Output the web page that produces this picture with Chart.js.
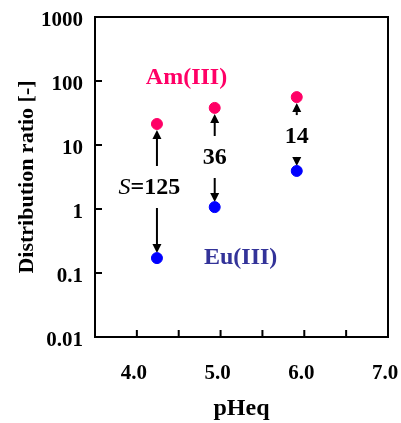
<!DOCTYPE html>
<html>
<head>
<meta charset="utf-8">
<script src="https://cdn.jsdelivr.net/npm/chart.js@4"></script>
<style>
  body{margin:0;background:#fff;}
  canvas{display:block;}
</style>
</head>
<body>
<canvas id="c" width="401" height="423"></canvas>
<script>
// data
const pH = [4.24, 4.93, 5.91];
const amD = [21.3, 38, 56];
const euD = [0.171, 1.07, 3.93];
const sepFactors = ['125', '36', '14'];

const xTicks = [3.5, 4.0, 4.5, 5.0, 5.5, 6.0, 6.5, 7.0];
const yTicks = [0.01, 0.1, 1, 10, 100, 1000];
const yTickLabels = ['0.01', '0.1', '1', '10', '100', '1000'];

// where the text notes sit, in data units
const sepLabelPos = [[4.15, 2.13], [4.93, 6.27], [5.91, 13.3]];
const amLabelPos = [4.593, 111];
const euLabelPos = [5.24, 0.171];

const AM = '#ff0066', EU = '#0000ff', EU_TXT = '#333399';
const FONT = '"Liberation Serif", "Times New Roman", serif';

function arrow(ctx, x, y0, y1){
  // line from y0 to tip at y1
  const dir = y1 > y0 ? 1 : -1;
  const h = 9, w = 4.5;
  ctx.beginPath();
  ctx.moveTo(x, y0);
  ctx.lineTo(x, y1 - dir*h);
  ctx.stroke();
  ctx.beginPath();
  ctx.moveTo(x, y1);
  ctx.lineTo(x - w, y1 - dir*h);
  ctx.lineTo(x + w, y1 - dir*h);
  ctx.closePath();
  ctx.fill();
}

const notes = {
  id: 'notes',
  beforeDatasetsDraw(chart){
    const {ctx, scales:{x, y}} = chart;
    ctx.save();
    ctx.strokeStyle = '#000'; ctx.fillStyle = '#000'; ctx.lineWidth = 2;
    pH.forEach((v, i) => {
      const px = x.getPixelForValue(v);
      const ly = y.getPixelForValue(sepLabelPos[i][1]);
      arrow(ctx, px, ly - 22, y.getPixelForValue(amD[i]) + 6);
      arrow(ctx, px, ly + 20, y.getPixelForValue(euD[i]) - 5);
    });
    ctx.restore();
  },
  afterDraw(chart){
    const {ctx, chartArea:a, scales:{x, y}} = chart;
    ctx.save();
    // frame top/right
    ctx.strokeStyle = '#000'; ctx.lineWidth = 2;
    ctx.beginPath();
    ctx.moveTo(a.left, a.top); ctx.lineTo(a.right, a.top); ctx.lineTo(a.right, a.bottom);
    ctx.stroke();
    // inward ticks
    ctx.beginPath();
    xTicks.slice(1, -1).forEach(v => {
      const px = x.getPixelForValue(v);
      ctx.moveTo(px, a.bottom); ctx.lineTo(px, a.bottom - 7);
    });
    yTicks.slice(1, -1).forEach(v => {
      const py = y.getPixelForValue(v);
      ctx.moveTo(a.left, py); ctx.lineTo(a.left + 7, py);
    });
    ctx.stroke();

    ctx.textBaseline = 'middle';
    ctx.textAlign = 'center';
    // separation factors
    sepFactors.forEach((s, i) => {
      const px = x.getPixelForValue(sepLabelPos[i][0]);
      const py = y.getPixelForValue(sepLabelPos[i][1]);
      ctx.fillStyle = '#000';
      if(i === 0){
        ctx.font = 'italic 24px ' + FONT;
        const w1 = ctx.measureText('S').width;
        ctx.font = 'bold 24px ' + FONT;
        const w2 = ctx.measureText('=' + s).width;
        const left = px - (w1 + w2)/2;
        ctx.textAlign = 'left';
        ctx.font = 'italic 24px ' + FONT;
        ctx.fillText('S', left, py);
        ctx.font = 'bold 24px ' + FONT;
        ctx.fillText('=' + s, left + w1, py);
        ctx.textAlign = 'center';
      } else {
        ctx.font = 'bold 24px ' + FONT;
        ctx.fillText(s, px, py);
      }
    });
    ctx.font = 'bold 24px ' + FONT;
    ctx.fillStyle = AM;
    ctx.fillText('Am(III)', x.getPixelForValue(amLabelPos[0]), y.getPixelForValue(amLabelPos[1]));
    ctx.fillStyle = EU_TXT;
    ctx.fillText('Eu(III)', x.getPixelForValue(euLabelPos[0]), y.getPixelForValue(euLabelPos[1]));
    ctx.restore();
  }
};

new Chart(document.getElementById('c'), {
  type: 'scatter',
  data: {
    datasets: [
      { label: 'Am(III)', data: pH.map((v, i) => ({x: v, y: amD[i]})),
        backgroundColor: AM, borderColor: AM, pointRadius: 5.5, pointHoverRadius: 5.5 },
      { label: 'Eu(III)', data: pH.map((v, i) => ({x: v, y: euD[i]})),
        backgroundColor: EU, borderColor: EU, pointRadius: 5.5, pointHoverRadius: 5.5 }
    ]
  },
  options: {
    responsive: false,
    animation: false,
    devicePixelRatio: 1,
    layout: { padding: { left: 0, top: 17, right: 13, bottom: 0 } },
    plugins: { legend: { display: false }, tooltip: { enabled: false } },
    scales: {
      x: {
        type: 'linear', min: 3.5, max: 7,
        afterBuildTicks: s => { s.ticks = xTicks.map(v => ({value: v})); },
        afterFit: s => { s.height = 86; s.paddingLeft = 0; s.paddingRight = 0; },
        grid: { display: true, drawOnChartArea: false, drawTicks: false },
        border: { display: true, color: '#000', width: 2 },
        ticks: {
          color: '#000', padding: 24, labelOffset: -3, maxRotation: 0, autoSkip: false,
          font: { family: FONT, size: 21, weight: 'bold' },
          callback: v => (v % 1 === 0 ? v.toFixed(1) : '')
        },
        title: { display: true, text: 'pHeq', color: '#000', padding: { top: 6, bottom: 0 },
          font: { family: FONT, size: 24, weight: 'bold' } }
      },
      y: {
        type: 'logarithmic', min: 0.01, max: 1000,
        afterBuildTicks: s => { s.ticks = yTicks.map(v => ({value: v})); },
        afterFit: s => { s.width = 95; s.paddingTop = 0; s.paddingBottom = 0; },
        grid: { display: true, drawOnChartArea: false, drawTicks: false },
        border: { display: true, color: '#000', width: 2 },
        ticks: {
          color: '#000', padding: 12, labelOffset: 4, autoSkip: false,
          font: { family: FONT, size: 21, weight: 'bold' },
          callback: (v, i) => yTickLabels[yTicks.indexOf(v)] ?? ''
        },
        title: { display: true, text: 'Distribution ratio [-]', color: '#000', padding: { top: 14, bottom: 0 },
          font: { family: FONT, size: 22, weight: 'bold' } }
      }
    }
  },
  plugins: [notes]
});
</script>
</body>
</html>
